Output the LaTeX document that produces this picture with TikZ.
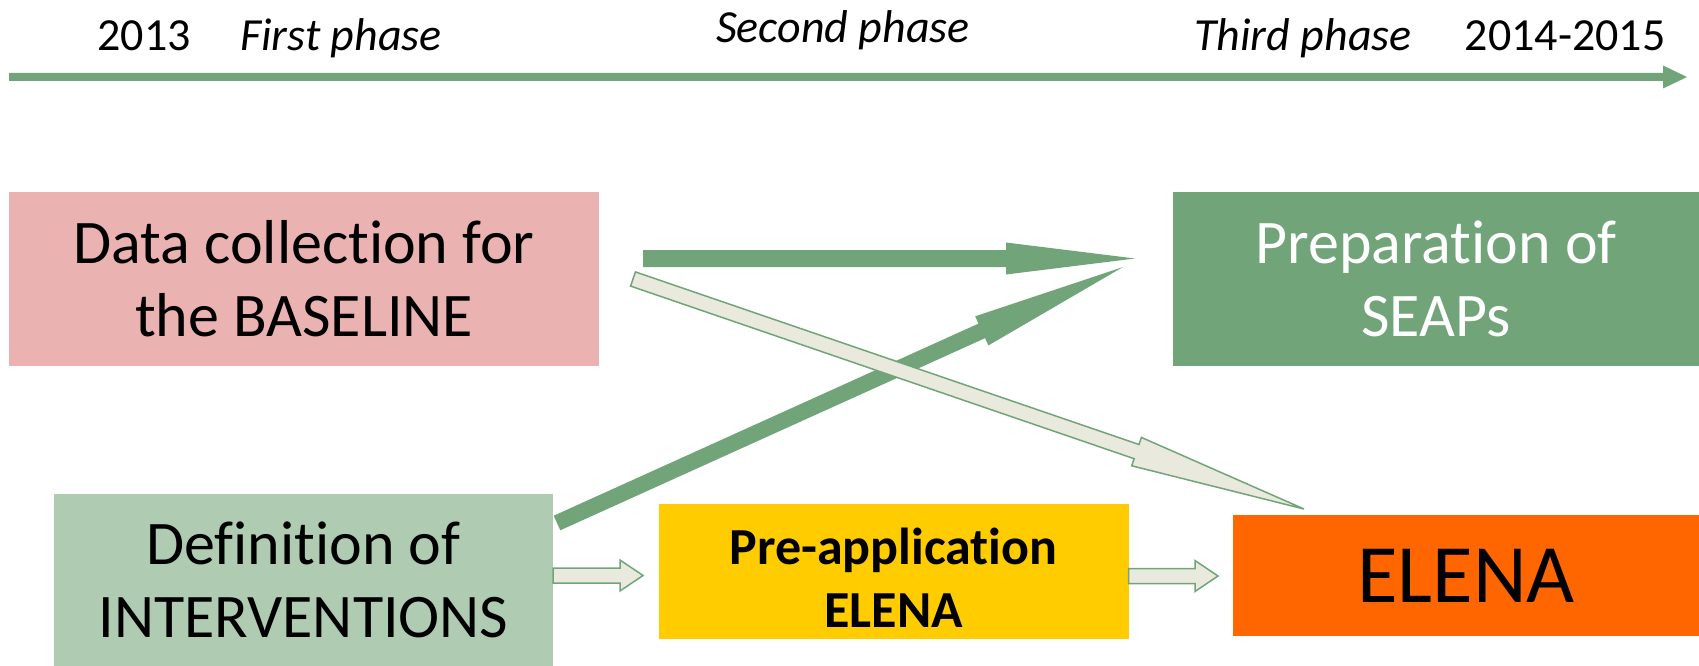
\documentclass[tikz,border=0pt]{standalone}
\usepackage{fontspec}
\setmainfont{Carlito}[Ligatures=NoCommon]
\usetikzlibrary{calc}
\usepackage{xcolor}
\definecolor{seapgreen}{HTML}{71A478}
\definecolor{rosepink}{HTML}{EAB3B2}
\definecolor{palegreen}{HTML}{AFCCB3}
\definecolor{shaftbeige}{HTML}{E9E9DD}
\definecolor{preyellow}{HTML}{FFCC00}
\definecolor{elenaorange}{HTML}{FF6600}

% block arrow: style, start, tip, half shaft, half head, head length
\newcommand{\blockarrow}[6]{%
  \coordinate (hb) at ($(#3)!#6!(#2)$);
  \filldraw[#1] ($(#2)!#4!90:(#3)$) -- ($(hb)!#4!90:(#3)$) -- ($(hb)!#5!90:(#3)$) -- (#3)
    -- ($(hb)!#5!-90:(#3)$) -- ($(hb)!#4!-90:(#3)$) -- ($(#2)!#4!-90:(#3)$) -- cycle;
}

\begin{document}
\begin{tikzpicture}[
    x=1pt, y=-1pt,
    box/.style={
        inner sep=0pt,
        align=center,
        font=\fontsize{62}{73}\selectfont,
    },
    phase/.style={anchor=base, font=\fontsize{46}{50}\selectfont\itshape},
    year/.style={anchor=base, font=\fontsize{46}{50}\selectfont},
    solidarrow/.style={fill=seapgreen, draw=none},
    hollowarrow/.style={fill=shaftbeige, draw=seapgreen, line width=1.5pt, line join=miter},
]
\useasboundingbox (0,0) rectangle (1699,666);

% timeline
\node[year] (y0) at (144,51) {2013};
\node[phase] (p1) at (341,51) {First phase};
\node[phase] (p2) at (843,43) {Second phase};
\node[phase] (p3) at (1303,51) {Third phase};
\node[year] (y1) at (1565,51) {2014-2015};
\coordinate (t0) at (9,77);
\coordinate (t1) at (1687,77);
\blockarrow{solidarrow}{t0}{t1}{4pt}{11.5pt}{24pt}

% boxes
\node[box, fill=rosepink, minimum width=590pt, minimum height=174pt] (data) at (304,279) {Data collection for\\the BASELINE};
\node[box, fill=seapgreen, text=white, minimum width=526pt, minimum height=174pt] (seap) at (1436,279) {Preparation of\\SEAPs};
\node[box, fill=palegreen, minimum width=499pt, minimum height=172pt] (interv) at (303.5,580) {Definition of\\INTERVENTIONS};
\node[box, fill=preyellow, minimum width=470pt, minimum height=135pt] (preapp) at (893.5,571.5) {};
\node[box, font=\fontsize{52}{63}\selectfont\bfseries] (preapptext) at (893.5,578) {Pre-application\\ELENA};
\node[box, fill=elenaorange, minimum width=466pt, minimum height=121pt, font=\fontsize{83}{90}\selectfont] (elena) at (1466,575.5) {ELENA};

% connectors
\coordinate (a1s) at (643,258.5);
\coordinate (a1e) at (1135,258.5);
\coordinate (a2s) at (557,523);
\coordinate (a2e) at (1123,267);
\coordinate (a3s) at (633,279);
\coordinate (a3e) at (1304,509);
\blockarrow{solidarrow}{a1s}{a1e}{8.5pt}{16pt}{129pt}
\blockarrow{solidarrow}{a2s}{a2e}{8pt}{16pt}{155pt}
\blockarrow{hollowarrow}{a3s}{a3e}{7.5pt}{15pt}{177pt}
\coordinate (a4s) at (interv.east |- 0,575.5);
\coordinate (a4e) at (643,575.5);
\coordinate (a5s) at (preapp.east |- 0,576);
\coordinate (a5e) at (1218,576);
\blockarrow{hollowarrow}{a4s}{a4e}{7.5pt}{15.5pt}{23pt}
\blockarrow{hollowarrow}{a5s}{a5e}{7.5pt}{15.5pt}{23pt}

\end{tikzpicture}
\end{document}
